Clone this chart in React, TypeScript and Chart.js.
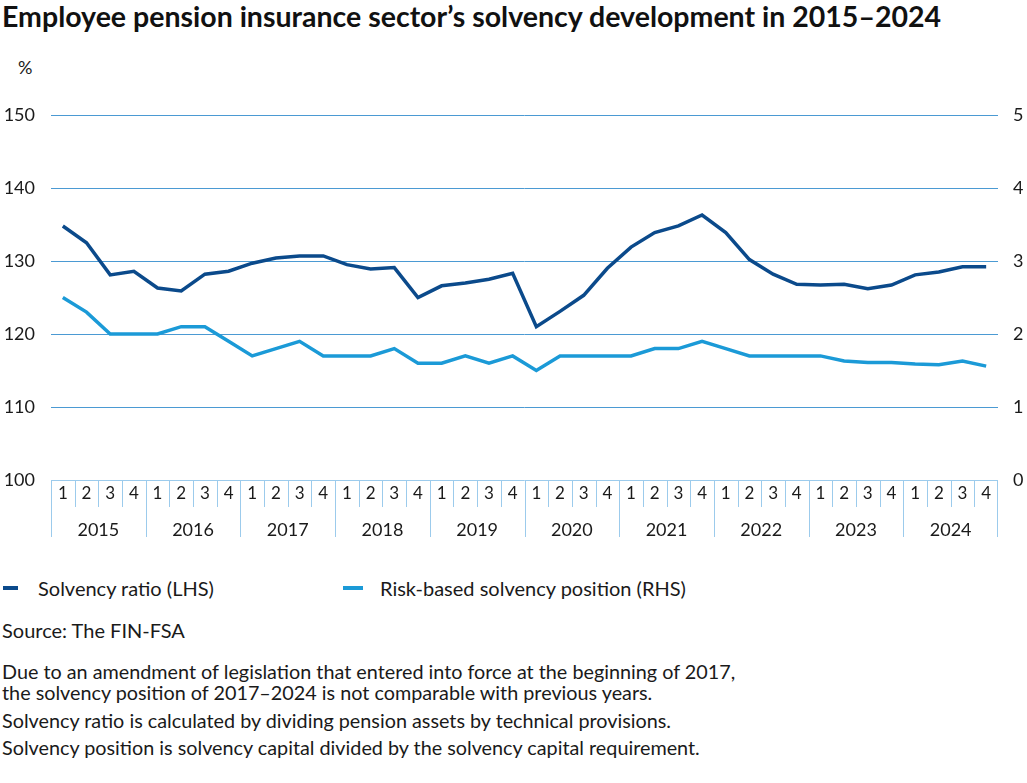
import { useEffect, useRef } from "react"
import { Chart, registerables } from "chart.js"

Chart.register(...registerables)

const years = ["2015", "2016", "2017", "2018", "2019", "2020", "2021", "2022", "2023", "2024"]
const quarters = ["1", "2", "3", "4"]

// Solvency ratio, % (left axis)
const solvencyRatio = [
  134.8, 132.5, 128.1, 128.6,
  126.3, 125.9, 128.2, 128.6,
  129.7, 130.4, 130.7, 130.7,
  129.5, 128.9, 129.1, 125.0,
  126.6, 127.0, 127.5, 128.3,
  121.0, 123.1, 125.3, 129.0,
  131.9, 133.9, 134.8, 136.3,
  133.9, 130.2, 128.2, 126.8,
  126.7, 126.8, 126.2, 126.7,
  128.1, 128.5, 129.2, 129.2,
]

// Risk-based solvency position (right axis)
const solvencyPosition = [
  2.5, 2.3, 2.0, 2.0,
  2.0, 2.1, 2.1, 1.9,
  1.7, 1.8, 1.9, 1.7,
  1.7, 1.7, 1.8, 1.6,
  1.6, 1.7, 1.6, 1.7,
  1.5, 1.7, 1.7, 1.7,
  1.7, 1.8, 1.8, 1.9,
  1.8, 1.7, 1.7, 1.7,
  1.7, 1.63, 1.61, 1.61,
  1.59, 1.58, 1.63, 1.56,
]

const leftRange = [100, 150]
const rightRange = [0, 5]

const labels = years.flatMap((y) => quarters.map((q) => `${y} Q${q}`))

const darkBlue = "#0b4a8b"
const lightBlue = "#1b9ad7"
const gridBlue = "#4b9ad3"
const axisBlue = "#9ccbec"
const textColor = "#1a1a1a"
const fontFamily = "Lato, 'Noto Sans', sans-serif"

const quarterAxisPlugin = {
  id: "quarterAxis",
  afterDraw(chart: any) {
    const { ctx, chartArea, scales } = chart
    const x = scales.x
    const step = x.getPixelForValue(1) - x.getPixelForValue(0)
    const top = chartArea.bottom

    ctx.save()
    ctx.strokeStyle = axisBlue
    ctx.lineWidth = 1
    ctx.beginPath()
    ctx.moveTo(chartArea.left, top + 0.5)
    ctx.lineTo(chartArea.right, top + 0.5)
    ctx.stroke()

    ctx.fillStyle = textColor
    ctx.textAlign = "center"
    ctx.textBaseline = "middle"

    labels.forEach((_, i) => {
      const cx = x.getPixelForValue(i)
      const left = Math.round(cx - step / 2) + 0.5
      const len = i % 4 === 0 ? 57 : 27
      ctx.beginPath()
      ctx.moveTo(left, top)
      ctx.lineTo(left, top + len)
      ctx.stroke()
      ctx.font = `17px ${fontFamily}`
      ctx.fillText(quarters[i % 4], cx, top + 14)
    })
    const right = Math.round(x.getPixelForValue(labels.length - 1) + step / 2) - 0.5
    ctx.beginPath()
    ctx.moveTo(right, top)
    ctx.lineTo(right, top + 57)
    ctx.stroke()

    ctx.font = `18px ${fontFamily}`
    years.forEach((y, i) => {
      const c = (x.getPixelForValue(i * 4) + x.getPixelForValue(i * 4 + 3)) / 2
      ctx.fillText(y, c, top + 50)
    })
    ctx.restore()
  },
}

function SolvencyChart() {
  const chartRef = useRef<HTMLCanvasElement | null>(null)
  const chartInstance = useRef<Chart | null>(null)

  useEffect(() => {
    if (!chartRef.current) return
    if (chartInstance.current) chartInstance.current.destroy()

    const ctx = chartRef.current.getContext("2d")
    if (!ctx) return

    chartInstance.current = new Chart(ctx, {
      type: "line",
      data: {
        labels,
        datasets: [
          {
            label: "Solvency ratio (LHS)",
            data: solvencyRatio,
            borderColor: darkBlue,
            borderWidth: 3.5,
            pointRadius: 0,
            tension: 0,
            yAxisID: "y",
          },
          {
            label: "Risk-based solvency position (RHS)",
            data: solvencyPosition,
            borderColor: lightBlue,
            borderWidth: 3.5,
            pointRadius: 0,
            tension: 0,
            yAxisID: "y1",
          },
        ],
      },
      options: {
        animation: false,
        responsive: true,
        maintainAspectRatio: false,
        layout: { padding: { top: 75, bottom: 80, left: 0, right: 0 } },
        plugins: {
          legend: { display: false },
          tooltip: { enabled: false },
        },
        scales: {
          x: {
            type: "category",
            display: false,
            offset: true,
          },
          y: {
            position: "left",
            min: leftRange[0],
            max: leftRange[1],
            afterFit: (scale: any) => {
              scale.width = 51
            },
            border: { display: false },
            grid: {
              drawTicks: false,
              color: (c: any) => (c.tick && c.tick.value === leftRange[0] ? "rgba(0,0,0,0)" : gridBlue),
              lineWidth: 1,
            },
            ticks: {
              stepSize: 10,
              padding: 16,
              color: textColor,
              font: { family: fontFamily, size: 18 },
            },
          },
          y1: {
            position: "right",
            min: rightRange[0],
            max: rightRange[1],
            afterFit: (scale: any) => {
              scale.width = 29
            },
            border: { display: false },
            grid: { display: false, drawTicks: false },
            ticks: {
              stepSize: 1,
              padding: 15,
              color: textColor,
              font: { family: fontFamily, size: 18 },
            },
          },
        },
      },
      plugins: [quarterAxisPlugin],
    })

    return () => {
      if (chartInstance.current) {
        chartInstance.current.destroy()
        chartInstance.current = null
      }
    }
  }, [])

  return (
    <div style={{ position: "absolute", left: 0, top: 40, width: 1027, height: 520 }}>
      <canvas ref={chartRef}></canvas>
    </div>
  )
}

const textStyle = (top: number, left: number, size = 20) => ({
  position: "absolute" as const,
  top,
  left,
  fontFamily,
  fontSize: size,
  lineHeight: `${size}px`,
  color: textColor,
  whiteSpace: "nowrap" as const,
})

export default function App() {
  useEffect(() => {
    document.body.style.margin = "0"
  }, [])

  return (
    <div style={{ position: "relative", width: 1027, height: 783, background: "#fff", overflow: "hidden" }}>
      <div
        style={{
          position: "absolute",
          top: 2,
          left: 2,
          fontFamily,
          fontWeight: 700,
          fontSize: 28.5,
          lineHeight: "28.5px",
          color: "#111",
          whiteSpace: "nowrap",
        }}
      >
        Employee pension insurance sector’s solvency development in 2015–2024
      </div>
      <div style={textStyle(58, 18, 18)}>%</div>
      <SolvencyChart />

      <div style={{ position: "absolute", left: 3, top: 586, width: 15, height: 4, background: darkBlue }} />
      <div style={textStyle(578, 38)}>Solvency ratio (LHS)</div>
      <div style={{ position: "absolute", left: 343, top: 586, width: 20, height: 4, background: lightBlue }} />
      <div style={textStyle(578, 380)}>Risk-based solvency position (RHS)</div>

      <div style={textStyle(620, 2)}>Source: The FIN-FSA</div>
      <div style={textStyle(662, 2, 19.8)}>
        Due to an amendment of legislation that entered into force at the beginning of 2017,
      </div>
      <div style={textStyle(683, 2, 19.8)}>the solvency position of 2017–2024 is not comparable with previous years.</div>
      <div style={textStyle(711, 2, 19.8)}>
        Solvency ratio is calculated by dividing pension assets by technical provisions.
      </div>
      <div style={textStyle(738, 2, 19.8)}>
        Solvency position is solvency capital divided by the solvency capital requirement.
      </div>
    </div>
  )
}
